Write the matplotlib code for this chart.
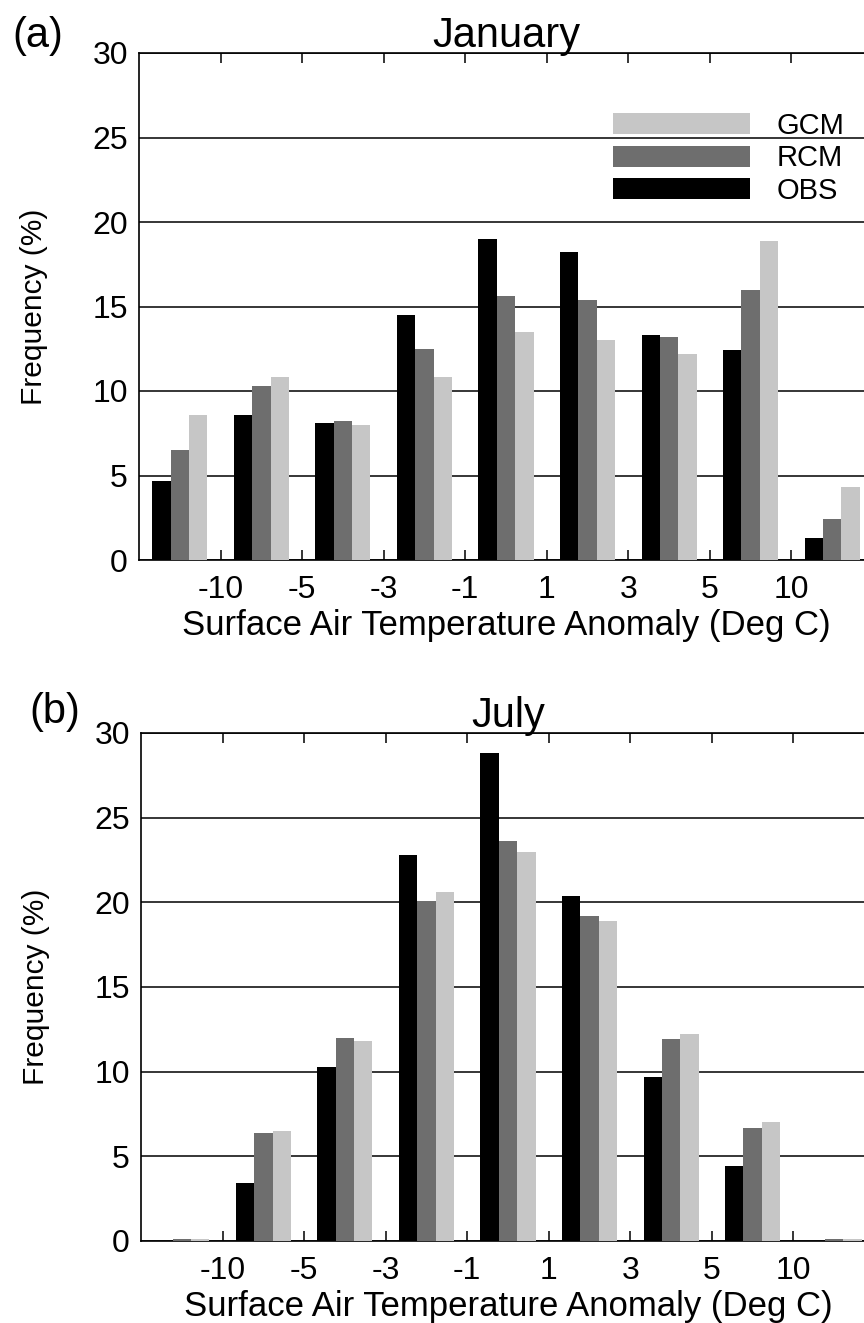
import matplotlib
matplotlib.use('Agg')
import matplotlib.pyplot as plt
import numpy as np

plt.rcParams['font.family'] = ['Liberation Sans', 'DejaVu Sans']

# temperature anomaly bins (9 classes, edges given by the tick labels)
bins = ['< -10', '-10..-5', '-5..-3', '-3..-1', '-1..1', '1..3', '3..5', '5..10', '> 10']
edge_labels = ['-10', '-5', '-3', '-1', '1', '3', '5', '10']

# January frequencies (%)
jan_obs = [4.7, 8.6, 8.1, 14.5, 19.0, 18.2, 13.3, 12.4, 1.3]
jan_rcm = [6.5, 10.3, 8.2, 12.5, 15.6, 15.4, 13.2, 16.0, 2.4]
jan_gcm = [8.6, 10.8, 8.0, 10.8, 13.5, 13.0, 12.2, 18.9, 4.3]

# July frequencies (%)
jul_obs = [0.0, 3.4, 10.3, 22.8, 28.8, 20.4, 9.7, 4.4, 0.0]
jul_rcm = [0.1, 6.4, 12.0, 20.1, 23.6, 19.2, 11.9, 6.7, 0.1]
jul_gcm = [0.1, 6.5, 11.8, 20.6, 23.0, 18.9, 12.2, 7.0, 0.1]

W, H = 864, 1323
fig = plt.figure(figsize=(W / 100, H / 100), dpi=100)

obs_col = 'black'
rcm_col = '#6e6e6e'
gcm_col = '#c6c6c6'
bw = 0.225


def draw_panel(ax, obs, rcm, gcm, title):
    x = np.arange(len(bins))
    b1 = ax.bar(x - bw, obs, bw, color=obs_col, linewidth=0, zorder=3)
    b2 = ax.bar(x, rcm, bw, color=rcm_col, linewidth=0, zorder=3)
    b3 = ax.bar(x + bw, gcm, bw, color=gcm_col, linewidth=0, zorder=3)

    ax.set_xlim(-0.5, len(bins) - 0.5)
    ax.set_ylim(0, 30)
    ax.set_yticks([0, 5, 10, 15, 20, 25, 30])
    ax.set_xticks(np.arange(len(edge_labels)) + 0.5)
    ax.set_xticklabels(edge_labels)

    # horizontal grid lines behind the bars
    ax.yaxis.grid(True, color='black', linewidth=1.1, zorder=0)
    ax.set_axisbelow(True)

    ax.tick_params(axis='x', direction='in', length=7, width=1.1,
                   top=True, labelsize=23, pad=11)
    ax.tick_params(axis='y', length=0, labelsize=23, pad=8)
    for s in ax.spines.values():
        s.set_linewidth(1.2)

    ax.set_title(title, fontsize=30, pad=4)
    ax.set_ylabel('Frequency (%)', fontsize=21.5)
    ax.yaxis.set_label_coords(-0.124, 0.5)
    ax.set_xlabel('Surface Air Temperature Anomaly (Deg C)', fontsize=25, labelpad=3)
    return b1, b2, b3


# panel (a) January
ax1 = fig.add_axes([139 / W, 1 - 560 / H, 734 / W, 507 / H])
b1, b2, b3 = draw_panel(ax1, jan_obs, jan_rcm, jan_gcm, 'January')
ax1.legend([b3, b2, b1], ['GCM', 'RCM', 'OBS'], loc='upper left',
           bbox_to_anchor=((613 - 139) / 734, 1 - (112 - 53) / 507),
           frameon=False, fontsize=21, handlelength=4.7, handleheight=0.72,
           handletextpad=0.9, labelspacing=0.15, borderpad=0, borderaxespad=0)

# panel (b) July
ax2 = fig.add_axes([141 / W, 1 - 1241 / H, 734 / W, 508 / H])
draw_panel(ax2, jul_obs, jul_rcm, jul_gcm, 'July')

fig.text(12 / W, 1 - 36 / H, '(a)', fontsize=30, va='center', ha='left')
fig.text(29 / W, 1 - 712 / H, '(b)', fontsize=30, va='center', ha='left')

plt.savefig('out.png', dpi=100)
